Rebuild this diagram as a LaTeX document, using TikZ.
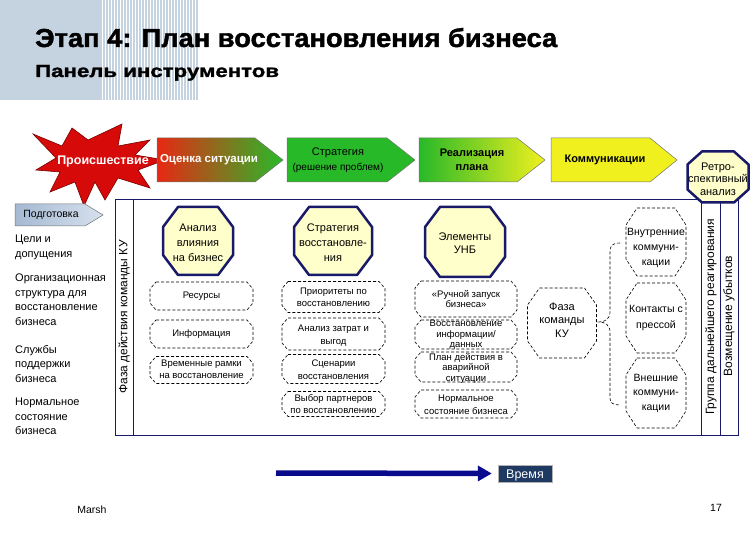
\documentclass[tikz,border=0pt]{standalone}
\usepackage{fontspec}
\setmainfont{Liberation Sans}
\newfontfamily\titlefont[FakeBold=1.6,FakeStretch=1.05]{Liberation Sans Bold}
\newfontfamily\subfont[FakeBold=1.6,FakeStretch=1.27]{Liberation Sans Bold}
\usetikzlibrary{arrows.meta}
\definecolor{navy}{RGB}{25,25,105}
\definecolor{navyarrow}{RGB}{10,10,140}
\definecolor{lyell}{RGB}{255,255,204}
\definecolor{greyblock}{RGB}{197,210,224}
\definecolor{arrgreen}{RGB}{40,185,40}
\definecolor{arryellow}{RGB}{240,240,30}
\definecolor{arrred}{RGB}{232,40,20}
\definecolor{arrorange}{RGB}{210,160,25}
\definecolor{arrlime}{RGB}{150,215,35}
\definecolor{burstred}{RGB}{215,10,10}
\definecolor{burstdark}{RGB}{120,0,0}
\definecolor{timebg}{RGB}{30,58,98}
\definecolor{prepL}{RGB}{165,185,210}
\definecolor{prepR}{RGB}{215,225,238}
\newcommand\fsz[2]{\fontsize{#1}{#2}\selectfont}
% chamfered outline: style, cx, cy, half width, half height, chamfer x, chamfer y
\newcommand\octo[7]{%
  \draw[#1] ({#2-#4+#6},{#3-#5}) -- ({#2+#4-#6},{#3-#5}) -- ({#2+#4},{#3-#5+#7})
    -- ({#2+#4},{#3+#5-#7}) -- ({#2+#4-#6},{#3+#5}) -- ({#2-#4+#6},{#3+#5})
    -- ({#2-#4},{#3+#5-#7}) -- ({#2-#4},{#3-#5+#7}) -- cycle;}
\begin{document}
\begin{tikzpicture}[x=1pt,y=-1pt,
  txt/.style={align=center,inner sep=0pt,font=\fsz{11}{15}},
  boxtxt/.style={align=center,inner sep=0pt,font=\fsz{9.5}{12}},
  tighttxt/.style={align=center,inner sep=0pt,font=\fsz{9.5}{10.5}},
  lefttxt/.style={align=left,inner sep=0pt,anchor=north west,font=\fsz{11}{14.5}},
  solidoct/.style={fill=lyell,draw=navy,line width=2.5pt,line join=round},
  dashoct/.style={draw=black,line width=0.6pt,dash pattern=on 3pt off 2pt},
  arrowborder/.style={draw=black!55,line width=0.5pt},
  frameline/.style={draw=navy,line width=0.9pt},
  vtxt/.style={rotate=90,inner sep=0pt,font=\fsz{12}{14}}]
\useasboundingbox (0,0) rectangle (756,540);
\fill[white] (0,0) rectangle (756,540);
% header block
\fill[greyblock] (0,0) rectangle (102,100);
\foreach \i in {0,...,31} \fill[greyblock] ({103+3*\i},0) rectangle ({104.6+3*\i},100);
\node[anchor=base west,inner sep=0pt,font=\fsz{26}{30}\titlefont] (title) at (35,47) {Этап 4: План восстановления бизнеса};
\node[anchor=base west,inner sep=0pt,font=\fsz{17.5}{20}\subfont] (subtitle) at (35,77) {Панель инструментов};
% starburst
\filldraw[fill=burstred,draw=burstdark,line width=0.6pt,line join=miter]
  (33,134) -- (62,146) -- (72,128) -- (88,140) -- (122,124) -- (118,146) -- (150,140)
  -- (135,155) -- (165,160) -- (138,170) -- (150,188) -- (118,178) -- (105,200)
  -- (95,182) -- (84,206) -- (75,182) -- (50,192) -- (60,172) -- (36,170) -- (56,158) -- cycle;
\node[inner sep=0pt,text=white,font=\fsz{12.5}{14}\bfseries] (incident) at (103,161) {Происшествие};
% process arrows
\shade[left color=arrred,middle color=arrorange,right color=arrgreen] (157,138) -- (255,138) -- (283,160) -- (255,182) -- (157,182) -- cycle;
\draw[arrowborder] (157,138) -- (255,138) -- (283,160) -- (255,182) -- (157,182) -- cycle;
\node[txt,text=white,font=\fsz{11.5}{14}\bfseries] (assess) at (209,160) {Оценка ситуации};
\filldraw[fill=arrgreen,arrowborder] (287,138) -- (387,138) -- (415,160) -- (387,182) -- (287,182) -- cycle;
\node[txt,font=\fsz{11}{15}] (strategy) at (338,160) {Стратегия\\{\fsz{10}{12}(решение проблем)}};
\shade[left color=arrgreen,middle color=arrlime,right color=arryellow] (419,138) -- (517,138) -- (545,160) -- (517,182) -- (419,182) -- cycle;
\draw[arrowborder] (419,138) -- (517,138) -- (545,160) -- (517,182) -- (419,182) -- cycle;
\node[txt,font=\fsz{11}{14}\bfseries] (implement) at (472,160) {Реализация\\плана};
\filldraw[fill=arryellow,arrowborder] (551,138) -- (650,138) -- (677,160) -- (650,182) -- (551,182) -- cycle;
\node[txt,font=\fsz{11}{14}\bfseries] (comm) at (605,160) {Коммуникации};
% preparation arrow
\shade[left color=prepL,right color=prepR] (15,204) -- (85,204) -- (103,215) -- (85,226) -- (15,226) -- cycle;
\draw[arrowborder] (15,204) -- (85,204) -- (103,215) -- (85,226) -- (15,226) -- cycle;
\node[inner sep=0pt,font=\fsz{10.5}{12}] (prep) at (51,215) {Подготовка};
% left list
\node[lefttxt] (goals) at (15,235) {Цели и\\допущения};
\node[lefttxt] (orgstruct) at (15,274) {Организационная\\структура для\\восстановление\\бизнеса};
\node[lefttxt] (services) at (15,345) {Службы\\поддержки\\бизнеса};
\node[lefttxt] (normal) at (15,398) {Нормальное\\состояние\\бизнеса};
% main frame
\draw[frameline] (115,199) rectangle (738,435);
\draw[frameline] (133,199) -- (133,435);
\draw[frameline] (701,199) -- (701,435);
\draw[frameline] (720,199) -- (720,435);
\node[vtxt] (phase) at (124,317) {Фаза действия команды КУ};
\node[vtxt] (group) at (711,317) {Группа дальнейшего реагирования};
\node[vtxt] (compens) at (729,316) {Возмещение убытков};
% retro octagon
\octo{solidoct}{718}{177}{30.5}{25.5}{14.5}{13}
\node[txt,font=\fsz{11}{12.5}] (retro) at (718,179) {Ретро-\\спективный\\анализ};
% solid octagons
\octo{solidoct}{198}{241}{35}{34}{15}{20}
\node[txt] (bia) at (198,243) {Анализ\\влияния\\на бизнес};
\octo{solidoct}{333}{241}{39}{34}{15}{20}
\node[txt] (recstrat) at (333,243) {Стратегия\\восстановле-\\ния};
\octo{solidoct}{465}{242}{40}{35}{15}{20}
\node[txt,font=\fsz{11}{13}] (bcp) at (465,243) {Элементы\\УНБ};
% dashed boxes column 1
\octo{dashoct}{201.5}{296}{51.5}{14}{6}{7}
\node[boxtxt] (res) at (201.5,296) {Ресурсы};
\octo{dashoct}{201.5}{334}{51.5}{14}{6}{7}
\node[boxtxt] (info) at (201.5,334) {Информация};
\octo{dashoct}{201.5}{370}{51.5}{13.5}{6}{7}
\node[boxtxt] (timeframe) at (201.5,369) {Временные рамки\\на восстановление};
% column 2
\octo{dashoct}{333.5}{297}{51.5}{15.5}{6}{7}
\node[boxtxt] (prio) at (333.5,297.5) {Приоритеты по\\восстановлению};
\octo{dashoct}{333.5}{334}{51.5}{16}{6}{7}
\node[boxtxt,font=\fsz{9.5}{13}] (costben) at (333.5,336) {Анализ затрат и\\выгод};
\octo{dashoct}{333.5}{369}{51.5}{14.5}{6}{7}
\node[boxtxt,font=\fsz{9.5}{13}] (scen) at (333.5,369.5) {Сценарии\\восстановления};
\octo{dashoct}{333.5}{404}{51.5}{12.5}{6}{7}
\node[boxtxt,font=\fsz{9.5}{11.5}] (partners) at (333.5,404) {Выбор партнеров\\по восстановлению};
% column 3
\octo{dashoct}{466}{299}{51}{18}{6}{7}
\node[boxtxt,font=\fsz{9.5}{10.5}] (manual) at (466,299) {«Ручной запуск\\бизнеса»};
\octo{dashoct}{466}{334.5}{51}{14.5}{6}{7}
\node[tighttxt] (datarec) at (466,335) {Восстановление\\информации/\\данных};
\octo{dashoct}{466}{367}{51}{15}{6}{7}
\node[tighttxt] (emerg) at (466,368) {План действия в\\аварийной\\ситуации};
\octo{dashoct}{466}{404}{51}{14}{6}{7}
\node[boxtxt,font=\fsz{9.5}{13}] (normbiz) at (466,404.5) {Нормальное\\состояние бизнеса};
% crisis team phase
\octo{dashoct}{562}{323}{34.5}{35}{12}{17}
\node[txt,font=\fsz{11}{13.5}] (ctphase) at (562,320) {Фаза\\команды\\КУ};
% brace
\coordinate (braceTop) at (620,243);
\coordinate (braceTip) at (599,322);
\coordinate (braceBot) at (620,405);
\draw[dashoct] (braceTop) .. controls (612,243) and (610,246) .. (610,252) -- (610,312)
  .. controls (610,319) and (605,322) .. (braceTip)
  .. controls (605,322) and (610,325) .. (610,332) -- (610,398)
  .. controls (610,403) and (613,405) .. (braceBot);
% communication octagons
\octo{dashoct}{656}{242}{30}{34}{11}{17}
\node[txt,font=\fsz{10.5}{15}] (internal) at (656,248) {Внутренние\\коммуни-\\кации};
\octo{dashoct}{656}{318}{30}{35}{11}{17}
\node[txt,font=\fsz{10.5}{16}] (press) at (656,318) {Контакты с\\прессой};
\octo{dashoct}{656}{393}{30}{35}{11}{17}
\node[txt,font=\fsz{10.5}{14.5}] (external) at (656,393) {Внешние\\коммуни-\\кации};
% time arrow
\coordinate (tstart) at (276,473);
\node[fill=timebg,draw=black!30,line width=0.4pt,text=white,inner sep=0pt,minimum width=54pt,minimum height=17pt,text height=9pt,text depth=0pt,font=\fsz{12.5}{14}] (time) at (525,473.5) {Время};
\draw[navyarrow,line width=5.5pt,-{Triangle[length=14pt,width=15pt]},shorten >=6pt] (tstart) -- (time.west);
% footer
\node[inner sep=0pt,font=\fsz{10.5}{12}] (marsh) at (92,510) {Marsh};
\node[inner sep=0pt,font=\fsz{10.5}{12}] (page) at (716,508) {17};
\end{tikzpicture}
\end{document}
